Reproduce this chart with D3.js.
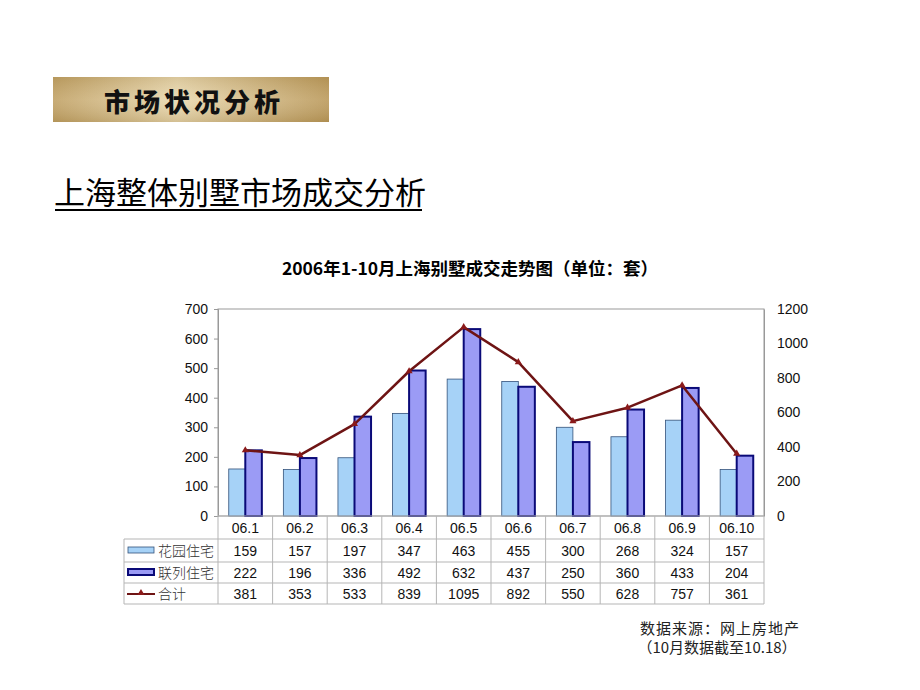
<!DOCTYPE html>
<html>
<head>
<meta charset="utf-8">
<script src="https://cdn.jsdelivr.net/npm/d3@7"></script>
<style>
  body { margin: 0; background: #fff; }
  svg { display: block; }
</style>
</head>
<body>
<div id="chart"></div>
<script>
var months = ["06.1", "06.2", "06.3", "06.4", "06.5", "06.6", "06.7", "06.8", "06.9", "06.10"];
var garden = [159, 157, 197, 347, 463, 455, 300, 268, 324, 157];
var townhouse = [222, 196, 336, 492, 632, 437, 250, 360, 433, 204];
var total = [381, 353, 533, 839, 1095, 892, 550, 628, 757, 361];
var seriesNames = ["花园住宅", "联列住宅", "合计"];
var leftTicks = [0, 100, 200, 300, 400, 500, 600, 700];
var rightTicks = [0, 200, 400, 600, 800, 1000, 1200];

var cjk = "'Noto Sans CJK SC', 'Noto Sans', sans-serif";
var latin = "'Liberation Sans', Arial, sans-serif";

var svg = d3.select("#chart").append("svg")
  .attr("width", 920)
  .attr("height", 690);

// header banner
var defs = svg.append("defs");
var grad = defs.append("linearGradient").attr("id", "gold")
  .attr("x1", "0%").attr("x2", "100%").attr("y1", "0%").attr("y2", "0%");
grad.append("stop").attr("offset", "0%").attr("stop-color", "#c1a266");
grad.append("stop").attr("offset", "45%").attr("stop-color", "#ead9b0");
grad.append("stop").attr("offset", "100%").attr("stop-color", "#bb9a5c");
var grad2 = defs.append("linearGradient").attr("id", "shade")
  .attr("x1", "0%").attr("x2", "0%").attr("y1", "0%").attr("y2", "100%");
grad2.append("stop").attr("offset", "0%").attr("stop-color", "#7a5a20").attr("stop-opacity", 0.15);
grad2.append("stop").attr("offset", "50%").attr("stop-color", "#ffffff").attr("stop-opacity", 0.1);
grad2.append("stop").attr("offset", "100%").attr("stop-color", "#7a5a20").attr("stop-opacity", 0.2);

svg.append("rect").attr("x", 53).attr("y", 77).attr("width", 276).attr("height", 45)
  .attr("fill", "url(#gold)");
svg.append("rect").attr("x", 53).attr("y", 77).attr("width", 276).attr("height", 45)
  .attr("fill", "url(#shade)");
svg.append("text").attr("x", 194).attr("y", 112)
  .attr("text-anchor", "middle")
  .attr("font-family", cjk).attr("font-weight", 900).attr("font-size", 26)
  .attr("letter-spacing", 4)
  .attr("fill", "#111")
  .text("市场状况分析");

// page heading
svg.append("text").attr("x", 54).attr("y", 204)
  .attr("font-family", cjk).attr("font-size", 31).attr("font-weight", 400)
  .attr("fill", "#000")
  .text("上海整体别墅市场成交分析");
svg.append("line").attr("x1", 55).attr("x2", 422).attr("y1", 210).attr("y2", 210)
  .attr("stroke", "#000").attr("stroke-width", 2);

// chart title
svg.append("text").attr("x", 470).attr("y", 275)
  .attr("text-anchor", "middle")
  .attr("font-family", cjk).attr("font-weight", 700).attr("font-size", 17.5)
  .text("2006年1-10月上海别墅成交走势图（单位：套）");

// scales
var pl = 218, pr = 764, pt = 309, pb = 516;
var x = d3.scaleBand().domain(months).range([pl, pr]);
var x1 = d3.scaleBand().domain(["garden", "townhouse"]).range([0, x.bandwidth()])
  .paddingInner(0).paddingOuter(0.65);
var yL = d3.scaleLinear().domain([0, 700]).range([pb, pt]);
var yR = d3.scaleLinear().domain([0, 1200]).range([pb, pt]);

// plot frame
svg.append("rect").attr("x", pl).attr("y", pt)
  .attr("width", pr - pl).attr("height", pb - pt)
  .attr("fill", "none").attr("stroke", "#999").attr("stroke-width", 1);

// axes
var axL = svg.append("g").attr("transform", "translate(" + pl + ",0)")
  .call(d3.axisLeft(yL).tickValues(leftTicks).tickFormat(d3.format("d")).tickSize(4).tickPadding(6));
var axR = svg.append("g").attr("transform", "translate(" + pr + ",0)")
  .call(d3.axisRight(yR).tickValues(rightTicks).tickFormat(d3.format("d")).tickSize(0).tickPadding(13));
[axL, axR].forEach(function(ax) {
  ax.select(".domain").attr("stroke", "#999");
  ax.selectAll(".tick line").attr("stroke", "#999");
  ax.selectAll(".tick text").attr("font-family", latin).attr("font-size", 14).attr("fill", "#111");
});

// bars
var g = svg.append("g");
months.forEach(function(m, i) {
  g.append("rect")
    .attr("x", x(m) + x1("garden"))
    .attr("y", yL(garden[i]))
    .attr("width", x1.bandwidth())
    .attr("height", pb - yL(garden[i]))
    .attr("fill", "#a6d2f7")
    .attr("stroke", "#33527a").attr("stroke-width", 0.8);
  g.append("rect")
    .attr("x", x(m) + x1("townhouse"))
    .attr("y", yL(townhouse[i]))
    .attr("width", x1.bandwidth())
    .attr("height", pb - yL(townhouse[i]))
    .attr("fill", "#9b9bf5")
    .attr("stroke", "#0a0a78").attr("stroke-width", 2);
});

// total line
var line = d3.line()
  .x(function(d, i) { return x(months[i]) + x.bandwidth() / 2; })
  .y(function(d) { return yR(d); });
svg.append("path").datum(total)
  .attr("d", line)
  .attr("fill", "none")
  .attr("stroke", "#6e1414")
  .attr("stroke-width", 2.5)
  .attr("stroke-linejoin", "round");
var tri = d3.symbol().type(d3.symbolTriangle).size(22);
svg.selectAll(".mk").data(total).enter().append("path")
  .attr("class", "mk")
  .attr("d", tri)
  .attr("transform", function(d, i) {
    return "translate(" + (x(months[i]) + x.bandwidth() / 2) + "," + yR(d) + ")";
  })
  .attr("fill", "#8b1a1a");

// data table
var tLeft = 124;
var rowLines = [pb, 539, 562, 583, 604];
var tg = svg.append("g").attr("stroke", "#b5b5b5").attr("stroke-width", 1);
rowLines.forEach(function(yy, k) {
  tg.append("line").attr("x1", k === 0 ? pl : tLeft).attr("x2", pr)
    .attr("y1", yy).attr("y2", yy);
});
tg.append("line").attr("x1", tLeft).attr("x2", tLeft).attr("y1", 539).attr("y2", 604);
months.forEach(function(m) {
  tg.append("line").attr("x1", x(m)).attr("x2", x(m)).attr("y1", pb).attr("y2", 604);
});
tg.append("line").attr("x1", pr).attr("x2", pr).attr("y1", pb).attr("y2", 604);

// category labels row
svg.selectAll(".cat").data(months).enter().append("text")
  .attr("x", function(d) { return x(d) + x.bandwidth() / 2; })
  .attr("y", 533)
  .attr("text-anchor", "middle")
  .attr("font-family", latin).attr("font-size", 14).attr("fill", "#111")
  .text(function(d) { return d; });

var rows = [garden, townhouse, total];
var rowY = [556, 578, 599];
rows.forEach(function(vals, r) {
  svg.selectAll(".r" + r).data(vals).enter().append("text")
    .attr("x", function(d, i) { return x(months[i]) + x.bandwidth() / 2; })
    .attr("y", rowY[r])
    .attr("text-anchor", "middle")
    .attr("font-family", latin).attr("font-size", 14).attr("fill", "#111")
    .text(function(d) { return d; });
  svg.append("text")
    .attr("x", 158).attr("y", rowY[r])
    .attr("font-family", cjk).attr("font-size", 14).attr("font-weight", 300).attr("fill", "#333")
    .text(seriesNames[r]);
});

// legend keys
svg.append("rect").attr("x", 128).attr("y", 547).attr("width", 26).attr("height", 6)
  .attr("fill", "#a6d2f7").attr("stroke", "#33527a").attr("stroke-width", 0.8);
svg.append("rect").attr("x", 128).attr("y", 569).attr("width", 26).attr("height", 6)
  .attr("fill", "#9b9bf5").attr("stroke", "#0a0a78").attr("stroke-width", 2);
svg.append("line").attr("x1", 127).attr("x2", 155).attr("y1", 594).attr("y2", 594)
  .attr("stroke", "#6e1414").attr("stroke-width", 2);
svg.append("path").attr("d", tri).attr("transform", "translate(141,593)").attr("fill", "#8b1a1a");

// source note
svg.append("text").attr("x", 720).attr("y", 634)
  .attr("text-anchor", "middle")
  .attr("font-family", cjk).attr("font-size", 15).attr("letter-spacing", 1).attr("fill", "#222")
  .text("数据来源：网上房地产");
svg.append("text").attr("x", 717).attr("y", 653)
  .attr("text-anchor", "middle")
  .attr("font-family", cjk).attr("font-size", 15).attr("fill", "#222")
  .text("（10月数据截至10.18）");
</script>
</body>
</html>
